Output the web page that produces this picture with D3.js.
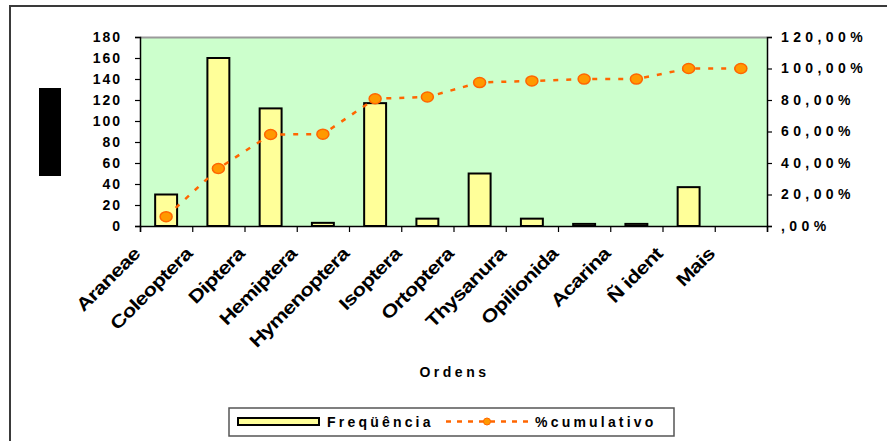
<!DOCTYPE html>
<html>
<head>
<meta charset="utf-8">
<script src="https://cdn.jsdelivr.net/npm/d3@7/dist/d3.min.js"></script>
<style>
  html, body { margin: 0; padding: 0; background: #fff; }
  svg { display: block; font-family: "Liberation Sans", Arial, sans-serif; font-weight: bold; }
</style>
</head>
<body>
<svg id="chart" width="887" height="441"></svg>
<script>
const categories = ["Araneae", "Coleoptera", "Diptera", "Hemiptera", "Hymenoptera", "Isoptera", "Ortoptera", "Thysanura", "Opilionida", "Acarina", "Ñ ident", "Mais"];
const frequencia = [30, 160, 112, 3, 117, 7, 50, 7, 2, 2, 37, 0];
const cumulativo = [5.9, 36.5, 58.1, 58.3, 80.8, 81.9, 91.1, 92.1, 93.3, 93.3, 100, 100];
const leftTicks = [0, 20, 40, 60, 80, 100, 120, 140, 160, 180];
const rightTicks = [0, 20, 40, 60, 80, 100, 120];
const rightTickLabels = [",00%", "20,00%", "40,00%", "60,00%", "80,00%", "100,00%", "120,00%"];
const seriesNames = ["Freqüência", "%cumulativo"];
const xTitle = "Ordens";

const svg = d3.select("#chart");
const plot = { left: 140, right: 767, top: 37, bottom: 226 };

// outer frame (top and left edges visible)
svg.append("path")
  .attr("d", `M10,441 L10,6 L887,6`)
  .attr("fill", "none").attr("stroke", "#3a3a3a").attr("stroke-width", 2);

const x = d3.scaleBand().domain(categories).range([plot.left, plot.right]).paddingInner(0).paddingOuter(0);
const yL = d3.scaleLinear().domain([0, 180]).range([plot.bottom, plot.top]);
const yR = d3.scaleLinear().domain([0, 120]).range([plot.bottom, plot.top]);

// plot background
svg.append("rect")
  .attr("x", plot.left).attr("y", plot.top)
  .attr("width", plot.right - plot.left).attr("height", plot.bottom - plot.top)
  .attr("fill", "#CCFFCC");
svg.append("line")
  .attr("x1", plot.left).attr("x2", plot.right).attr("y1", plot.top + 0.5).attr("y2", plot.top + 0.5)
  .attr("stroke", "#9a9a9a").attr("stroke-width", 2);

// bars
const barW = x.bandwidth() * 0.42;
svg.append("g").selectAll("rect").data(frequencia).join("rect")
  .attr("x", (d, i) => x(categories[i]) + (x.bandwidth() - barW) / 2)
  .attr("y", d => yL(d))
  .attr("width", barW)
  .attr("height", d => yL(0) - yL(d))
  .attr("fill", "#FFFF99").attr("stroke", "#000").attr("stroke-width", 2);

// axes
const axisL = svg.append("g").attr("transform", `translate(${plot.left},0)`)
  .call(d3.axisLeft(yL).tickValues(leftTicks).tickSize(5).tickFormat(d3.format("d")));
const axisR = svg.append("g").attr("transform", `translate(${plot.right},0)`)
  .call(d3.axisRight(yR).tickValues(rightTicks).tickSize(5).tickFormat((d, i) => rightTickLabels[i]));
const bandEdges = categories.map(c => x(c)).concat([plot.right]);
const axisB = svg.append("g").attr("transform", `translate(0,${plot.bottom})`)
  .call(d3.axisBottom(d3.scaleLinear().domain([plot.left, plot.right]).range([plot.left, plot.right]))
    .tickValues(bandEdges).tickSize(6).tickFormat(""));

[axisL, axisR, axisB].forEach(a => {
  a.select(".domain").attr("stroke", "#000").attr("stroke-width", 1.5);
  a.selectAll(".tick line").attr("stroke", "#000").attr("stroke-width", 1.2);
});
axisL.selectAll(".tick text")
  .attr("font-size", 14).attr("font-weight", "bold").attr("fill", "#000")
  .attr("font-family", "Liberation Sans, Arial, sans-serif")
  .attr("letter-spacing", "2px").attr("x", -18);
axisR.selectAll(".tick text")
  .attr("font-size", 14).attr("font-weight", "bold").attr("fill", "#000")
  .attr("font-family", "Liberation Sans, Arial, sans-serif")
  .attr("letter-spacing", "4.4px").attr("x", 14);

// category labels (slightly stretched, rotated)
svg.append("g").selectAll("text").data(categories).join("text")
  .attr("transform", d => `translate(${x(d) + x.bandwidth() / 2 - 25},255) rotate(-45) scale(1.22,1)`)
  .attr("text-anchor", "end")
  .attr("font-size", 18).attr("letter-spacing", "-0.6px")
  .attr("fill", "#000")
  .text(d => d);

// x title
svg.append("text")
  .attr("x", (plot.left + plot.right) / 2 + 1).attr("y", 377)
  .attr("text-anchor", "middle").attr("font-size", 14).attr("letter-spacing", "3.5px")
  .text(xTitle);

// black block (y title placeholder)
svg.append("rect").attr("x", 39).attr("y", 88).attr("width", 22).attr("height", 88).attr("fill", "#000");

// cumulative line
const line = d3.line()
  .x((d, i) => x(categories[i]) + x.bandwidth() / 2)
  .y(d => yR(d));
svg.append("path").datum(cumulativo)
  .attr("d", line).attr("fill", "none")
  .attr("stroke", "#FF6600").attr("stroke-width", 2.5).attr("stroke-dasharray", "5,8");
svg.append("g").selectAll("ellipse").data(cumulativo).join("ellipse")
  .attr("cx", (d, i) => x(categories[i]) + x.bandwidth() / 2)
  .attr("cy", d => yR(d))
  .attr("rx", 6).attr("ry", 5)
  .attr("fill", "#FF9900").attr("stroke", "#FF6600").attr("stroke-width", 1.5);

// legend
const lg = svg.append("g");
lg.append("rect").attr("x", 229).attr("y", 408).attr("width", 445).attr("height", 28)
  .attr("fill", "#fff").attr("stroke", "#555").attr("stroke-width", 1.5);
lg.append("rect").attr("x", 238).attr("y", 418).attr("width", 81).attr("height", 7)
  .attr("fill", "#FFFF99").attr("stroke", "#000").attr("stroke-width", 2);
lg.append("text").attr("x", 327).attr("y", 427).attr("font-size", 14).attr("letter-spacing", "3.2px")
  .text(seriesNames[0]);
lg.append("line").attr("x1", 446).attr("x2", 532).attr("y1", 421.5).attr("y2", 421.5)
  .attr("stroke", "#FF6600").attr("stroke-width", 2.5).attr("stroke-dasharray", "5,6");
lg.append("circle").attr("cx", 487).attr("cy", 421.5).attr("r", 3.5)
  .attr("fill", "#FF9900").attr("stroke", "#FF6600").attr("stroke-width", 1);
lg.append("text").attr("x", 535).attr("y", 427).attr("font-size", 14).attr("letter-spacing", "3.2px")
  .text(seriesNames[1]);
</script>
</body>
</html>
